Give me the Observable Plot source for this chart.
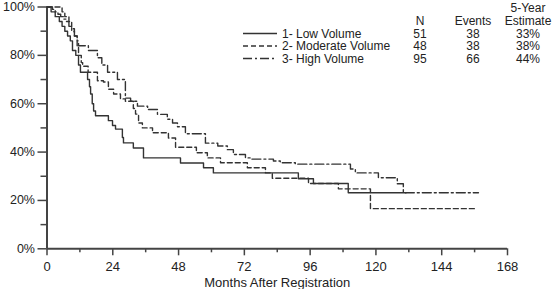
<!DOCTYPE html>
<html><head><meta charset="utf-8">
<script src="https://cdn.jsdelivr.net/npm/d3@7"></script>
<script src="https://cdn.jsdelivr.net/npm/@observablehq/plot@0.6"></script>
<style>
body{margin:0;background:#fff;}
#chart{width:553px;height:289px;}
</style></head><body><div id="chart"></div>
<script>
// ---- data ----
const groups = ["1- Low Volume", "2- Moderate Volume", "3- High Volume"];
const nValues = ["51", "48", "95"];
const eventValues = ["38", "38", "66"];
const estimateValues = ["33%", "38%", "44%"];

const lowMonths = [0, 1.5, 3, 4.5, 5.5, 6.5, 7.5, 8.5, 9.3, 10.5, 11.5, 12.2, 14.8, 15.5, 15.9, 16.5, 17, 17.7, 22.4, 23.9, 25, 27.5, 27.9, 31.5, 35.2, 48.7, 57.1, 60.7, 91.7, 97.2, 109.9, 131];
const lowSurv   = [100, 98, 96, 94, 92, 90, 88, 86, 82, 80, 76, 73, 70, 67, 64, 60, 57, 55, 53, 51, 49.5, 46, 43.8, 41.7, 37.6, 35.5, 33.5, 31.4, 29, 27, 23.2, 23.2];

const modMonths = [0, 5.5, 6.5, 8, 9, 10, 11, 11.5, 12.5, 13, 15, 18.4, 20.6, 22.4, 24.3, 26.8, 28.6, 31.5, 32.3, 33.4, 34.8, 38.5, 44.3, 46.9, 54.5, 58.5, 63.3, 73.1, 79.7, 82.2, 95.4, 106.3, 118, 156.3];
const modSurv   = [100, 98, 96, 94, 91, 88, 84, 80, 77, 75.5, 73, 69.5, 69, 66, 64, 62, 61, 58, 55.7, 52, 50, 48, 45.8, 42, 39.7, 37.6, 35.6, 33.5, 31.4, 29.2, 27, 24.8, 16.6, 16.6];

const highMonths = [0, 2, 3, 4, 5, 6, 7, 8, 9, 10, 11, 11.5, 15.1, 18.4, 20, 22.1, 25.7, 28.6, 30.5, 33, 36.7, 40.3, 43.9, 45.8, 47.6, 50.5, 57.8, 62.3, 65.8, 68, 72.4, 74.2, 82.6, 85.1, 90.6, 110.7, 112.5, 120.9, 127.8, 130, 157.4];
const highSurv   = [100, 99, 98, 97, 96, 95, 94, 92, 90, 88, 86, 84, 82, 79, 76, 73, 70, 62.3, 61, 59, 57.6, 55.6, 53.6, 52, 50.5, 47.6, 43.7, 42.5, 41, 39, 37.6, 37.1, 36.3, 35.6, 35, 33, 31.4, 29.4, 26.9, 23.2, 23.2];

const xTicks = [0, 24, 48, 72, 96, 120, 144, 168];
const xMinorTicks = [12, 36, 60, 84, 108, 132, 156];
const yTicks = [0, 20, 40, 60, 80, 100];
const yMinorTicks = [10, 30, 50, 70, 90];

// ---- build ----
const dashes = ["none", "5,3", "9,3,2,3"];
const seriesMonths = [lowMonths, modMonths, highMonths];
const seriesSurv = [lowSurv, modSurv, highSurv];
const font = "'Liberation Sans', Arial, sans-serif";
const ink = "#333";

const lineMarks = groups.map((g, i) => Plot.line(
  seriesMonths[i].map((m, j) => ({month: m, surv: seriesSurv[i][j]})),
  {x: "month", y: "surv", curve: "step-after", stroke: ink, strokeWidth: 1.4, strokeDasharray: dashes[i]}
));

const plot = Plot.plot({
  width: 553, height: 289,
  marginLeft: 46.5, marginRight: 46, marginTop: 6.5, marginBottom: 40.7,
  style: {fontFamily: font, fontSize: "13px", color: "#222", background: "#fff", overflow: "visible"},
  x: {domain: [0, 168]},
  y: {domain: [0, 100]},
  marks: [
    Plot.axisY({ticks: yTicks, tickSize: 9, tickPadding: 3, tickFormat: d => d + "%", label: null, stroke: "#444", strokeWidth: 1.5, fontSize: 12.5}),
    Plot.axisY({ticks: yMinorTicks, tickSize: 6, tickFormat: () => "", label: null, stroke: "#444", strokeWidth: 1.5}),
    Plot.axisX({ticks: xTicks, tickSize: 7, tickPadding: 6, tickFormat: d => String(d), label: "Months After Registration",
      labelAnchor: "center", labelArrow: "none", labelOffset: 38, stroke: "#444", strokeWidth: 1.5}),
    Plot.axisX({ticks: xMinorTicks, tickSize: 4, tickFormat: () => "", label: null, stroke: "#444", strokeWidth: 1.5}),
    Plot.ruleX([0], {stroke: "#444", strokeWidth: 2}),
    Plot.ruleY([0], {stroke: "#444", strokeWidth: 2}),
    ...lineMarks
  ]
});

// ---- legend table (top right, inside plot) ----
const svg = d3.select(plot);
const lg = svg.append("g").attr("font-family", font).attr("font-size", 12).attr("fill", "#222");
const rowY = [33.5, 46, 58.5];
const colN = 420, colE = 473, colS = 528;
const txt = (x, y, s, anchor) => lg.append("text").attr("x", x).attr("y", y).attr("text-anchor", anchor).text(s);
txt(colS, 12, "5-Year", "middle");
txt(colN, 25, "N", "middle");
txt(colE, 25, "Events", "middle");
txt(colS, 25, "Estimate", "middle");
groups.forEach((g, i) => {
  const y = rowY[i];
  lg.append("line").attr("x1", 243).attr("x2", 277).attr("y1", y).attr("y2", y)
    .attr("stroke", ink).attr("stroke-width", 1.4).attr("stroke-dasharray", dashes[i]);
  txt(282, y + 4.3, g, "start");
  txt(colN, y + 4.3, nValues[i], "middle");
  txt(colE, y + 4.3, eventValues[i], "middle");
  txt(colS, y + 4.3, estimateValues[i], "middle");
});

document.getElementById("chart").appendChild(plot);
</script>
</body></html>
